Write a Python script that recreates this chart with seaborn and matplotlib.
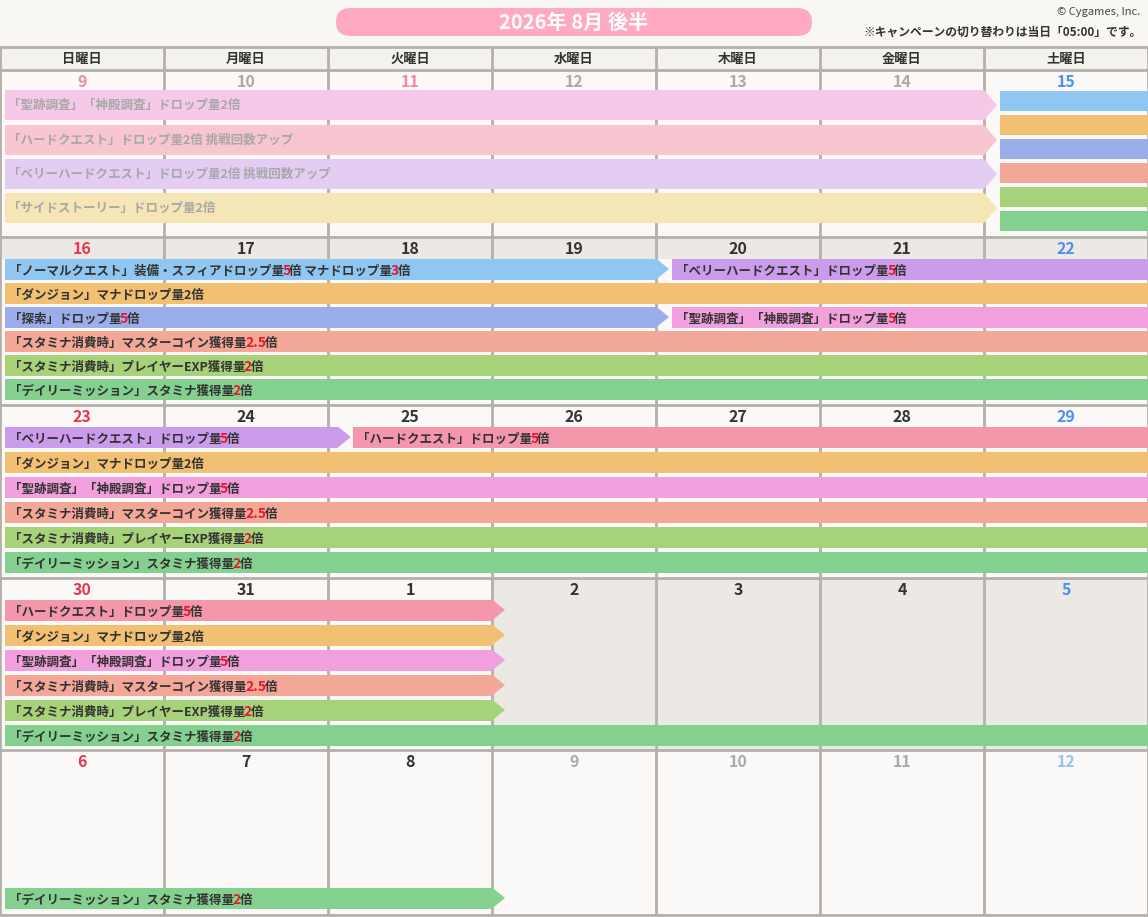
import re
import numpy as np
import matplotlib
matplotlib.use("Agg")
import matplotlib.pyplot as plt
from matplotlib.patches import FancyBboxPatch, Rectangle, Polygon
import seaborn as sns

sns.set_theme(style="white")
plt.rcParams['font.family'] = ['Noto Sans CJK JP', 'DejaVu Sans']

W, H = 1148, 917
COLW = W / 7.0

weekdays = ["日曜日", "月曜日", "火曜日", "水曜日", "木曜日", "金曜日", "土曜日"]
week_days = [
    [9, 10, 11, 12, 13, 14, 15],
    [16, 17, 18, 19, 20, 21, 22],
    [23, 24, 25, 26, 27, 28, 29],
    [30, 31, 1, 2, 3, 4, 5],
    [6, 7, 8, 9, 10, 11, 12],
]
week_top = [70, 237, 405, 578, 750, 915]
day_colors = [
    ["#f08aa0", "#aaaaaa", "#f08aa0", "#aaaaaa", "#aaaaaa", "#aaaaaa", "#4d8ef0"],
    ["#e8364f", "#333333", "#333333", "#333333", "#333333", "#333333", "#4d8ef0"],
    ["#e8364f", "#333333", "#333333", "#333333", "#333333", "#333333", "#4d8ef0"],
    ["#e8364f", "#333333", "#333333", "#333333", "#333333", "#333333", "#4d8ef0"],
    ["#e8364f", "#333333", "#333333", "#aaaaaa", "#aaaaaa", "#aaaaaa", "#9cc0f5"],
]

BLUE, ORANGE, PERI, SALMON, LIME, GREEN = "#8fc6f2", "#f2c072", "#9aaeea", "#f3a797", "#a6d279", "#84d18f"
PURPLE, PINK, HARD = "#cc9cec", "#f19fdd", "#f597aa"

# campaign bars: week, row, start col, end col, colour, label  ({x} = red text)
bar_week = [1, 1, 1, 1, 1, 1, 1, 1,
            2, 2, 2, 2, 2, 2, 2,
            3, 3, 3, 3, 3, 3,
            4]
bar_row = [0, 0, 1, 2, 2, 3, 4, 5,
           0, 0, 1, 2, 3, 4, 5,
           0, 1, 2, 3, 4, 5,
           0]
bar_start = [0.03, 4.1, 0.03, 0.03, 4.1, 0.03, 0.03, 0.03,
             0.03, 2.15, 0.03, 0.03, 0.03, 0.03, 0.03,
             0.03, 0.03, 0.03, 0.03, 0.03, 0.03,
             0.03]
bar_end = [4.0, 7.0, 7.0, 4.0, 7.0, 7.0, 7.0, 7.0,
           2.06, 7.0, 7.0, 7.0, 7.0, 7.0, 7.0,
           3.0, 3.0, 3.0, 3.0, 3.0, 7.0,
           3.0]
bar_color = [BLUE, PURPLE, ORANGE, PERI, PINK, SALMON, LIME, GREEN,
             PURPLE, HARD, ORANGE, PINK, SALMON, LIME, GREEN,
             HARD, ORANGE, PINK, SALMON, LIME, GREEN,
             GREEN]
bar_label = [
    "「ノーマルクエスト」装備・スフィアドロップ量{5}倍 マナドロップ量{3}倍",
    "「ベリーハードクエスト」ドロップ量{5}倍",
    "「ダンジョン」マナドロップ量2倍",
    "「探索」ドロップ量{5}倍",
    "「聖跡調査」「神殿調査」ドロップ量{5}倍",
    "「スタミナ消費時」マスターコイン獲得量{2.5}倍",
    "「スタミナ消費時」プレイヤーEXP獲得量{2}倍",
    "「デイリーミッション」スタミナ獲得量{2}倍",
    "「ベリーハードクエスト」ドロップ量{5}倍",
    "「ハードクエスト」ドロップ量{5}倍",
    "「ダンジョン」マナドロップ量2倍",
    "「聖跡調査」「神殿調査」ドロップ量{5}倍",
    "「スタミナ消費時」マスターコイン獲得量{2.5}倍",
    "「スタミナ消費時」プレイヤーEXP獲得量{2}倍",
    "「デイリーミッション」スタミナ獲得量{2}倍",
    "「ハードクエスト」ドロップ量{5}倍",
    "「ダンジョン」マナドロップ量2倍",
    "「聖跡調査」「神殿調査」ドロップ量{5}倍",
    "「スタミナ消費時」マスターコイン獲得量{2.5}倍",
    "「スタミナ消費時」プレイヤーEXP獲得量{2}倍",
    "「デイリーミッション」スタミナ獲得量{2}倍",
    "「デイリーミッション」スタミナ獲得量{2}倍",
]
row_y0 = {1: 269, 2: 437, 3: 610, 4: 898}
ROW_STEP = [24, 25, 25, 25]

# faded first week
fade_labels = ["「聖跡調査」「神殿調査」ドロップ量2倍", "「ハードクエスト」ドロップ量2倍 挑戦回数アップ",
               "「ベリーハードクエスト」ドロップ量2倍 挑戦回数アップ", "「サイドストーリー」ドロップ量2倍"]
fade_colors = ["#f6c9e8", "#f8c6d0", "#e4cdf2", "#f6e6b6"]
fade_y = [105, 140, 174, 208]
sat_colors = [BLUE, ORANGE, PERI, SALMON, LIME, GREEN]
sat_y = [101, 125, 149, 173, 197, 221]

fig = plt.figure(figsize=(W / 100, H / 100), dpi=100)
fig.patch.set_facecolor("#f8f7f4")
ax = fig.add_axes([0, 0, 1, 1])
ax.set_xlim(0, 7)
ax.set_ylim(H, 0)
ax.axis("off")

def px(x):
    return x / COLW

# cell backgrounds
for w in range(5):
    top, bot = week_top[w], week_top[w + 1]
    for c in range(7):
        fc = "#faf9f7"
        off = 22 if w == 1 else 0
        if w == 1:
            ax.add_patch(Rectangle((c, top), 1, 22, fc="#ece9e4", ec="none", zorder=0))
        if w == 3 and c >= 3:
            fc = "#ece9e4"
        ax.add_patch(Rectangle((c, top + off), 1, bot - top - off, fc=fc, ec="none", zorder=0))
        ax.text(c + 0.5, top + 12, str(week_days[w][c]), ha="center", va="center",
                fontsize=11.5, fontweight="bold", color=day_colors[w][c], zorder=5)
# header
ax.add_patch(Rectangle((0, 47), 7, 23, fc="#f4f2ee", ec="none", zorder=0))
for c, name in enumerate(weekdays):
    ax.text(c + 0.5, 58.5, name, ha="center", va="center", fontsize=9.5, fontweight="bold", color="#333333")
# grid
for c in range(8):
    ax.plot([c, c], [47, 915], color="#b5b0aa", lw=2, zorder=1)
for y in [47, 70] + week_top[1:]:
    ax.plot([0, 7], [y, y], color="#b5b0aa", lw=2, zorder=1)

def rich_text(x, y, label, color="#333333"):
    parts = re.split(r"(\{[^}]*\})", label)
    prev = None
    for p in parts:
        if not p:
            continue
        red = p.startswith("{")
        s = p.strip("{}")
        col = "#e8182c" if red else color
        kw = dict(fontsize=10 if red else 9, fontweight="bold", color=col, zorder=5)
        if prev is None:
            prev = ax.annotate(s, (x, y), xycoords="data", ha="left", va="center_baseline", **kw)
        else:
            prev = ax.annotate(s, (1, 0), xycoords=prev, textcoords="offset points", xytext=(-1, 0),
                               ha="left", va="bottom", **kw)

def bar(x0, x1, y, h, color, tip=True):
    ax.barh(y, x1 - x0, left=x0, height=h, color=color, edgecolor="none", zorder=3)
    if tip and x1 < 6.99:
        t = px(13)
        ax.add_patch(Polygon([(x1, y - h / 2), (x1 + t, y), (x1, y + h / 2)], closed=True,
                             fc=color, ec="none", zorder=3))

# week 1 (past, faded)
for lab, col, y in zip(fade_labels, fade_colors, fade_y):
    bar(0.03, 6.0, y, 30, col)
    ax.text(px(8), y, lab, fontsize=9, fontweight="bold", color="#a8a8a8", va="center", zorder=5)
for col, y in zip(sat_colors, sat_y):
    bar(6.1, 7.0, y, 20, col, tip=False)

for w, r, x0, x1, col, lab in zip(bar_week, bar_row, bar_start, bar_end, bar_color, bar_label):
    y = row_y0[w] + r * ROW_STEP[w - 1]
    bar(x0, x1, y, 21, col)
    rich_text(x0 + px(4), y + 1, lab)

# title
ax.add_patch(FancyBboxPatch((px(336), 8), px(476), 28, boxstyle="round,pad=0,rounding_size=0.09",
                            mutation_aspect=160, fc="#ffa9c2", ec="none"))
ax.text(px(574), 22, "2026年 8月 後半", ha="center", va="center", fontsize=14.5, fontweight="bold", color="white")
ax.text(px(1140), 12, "© Cygames, Inc.", ha="right", va="center", fontsize=8, color="#444444")
ax.text(px(1142), 32, "※キャンペーンの切り替わりは当日「05:00」です。", ha="right", va="center",
        fontsize=8.5, fontweight="bold", color="#333333")

fig.savefig("out.png", dpi=100, facecolor=fig.get_facecolor())
